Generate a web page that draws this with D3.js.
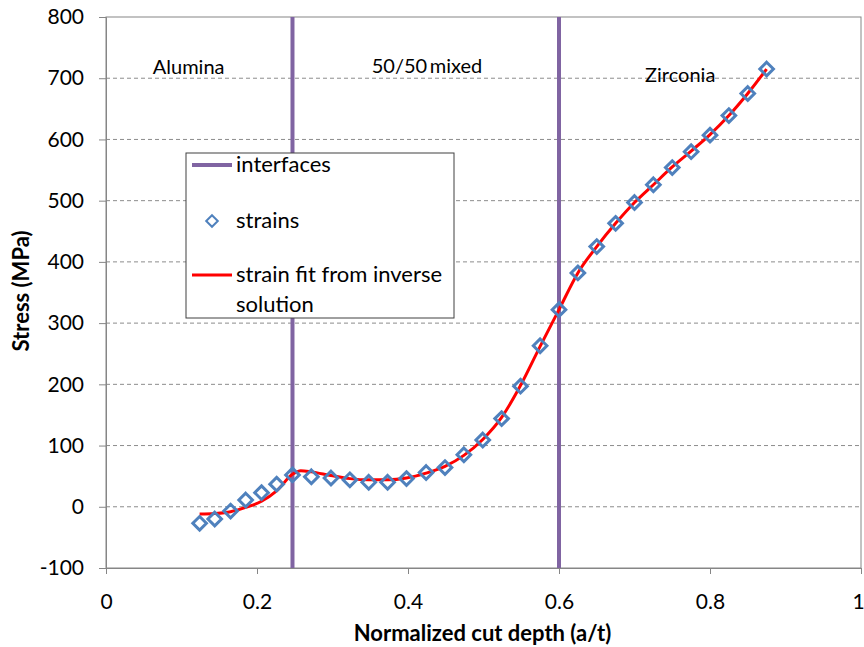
<!DOCTYPE html>
<html>
<head>
<meta charset="utf-8">
<script src="https://cdn.jsdelivr.net/npm/d3@7"></script>
<style>
  body { margin: 0; background: #fff; }
  text { font-family: Lato, "Open Sans", sans-serif; fill: #000; }
</style>
</head>
<body>
<div id="wrapper"></div>
<script>
// measured strains (normalized depth, stress in MPa)
const strainDepths = [0.124, 0.144, 0.165, 0.185, 0.206, 0.226, 0.247,
  0.272, 0.298, 0.323, 0.348, 0.373, 0.398, 0.424, 0.449, 0.474, 0.499,
  0.524, 0.549, 0.575, 0.6,
  0.625, 0.65, 0.675, 0.7, 0.725, 0.75, 0.775, 0.8, 0.825, 0.85, 0.875]
const strainStress = [-27, -20, -7, 11, 23, 37, 52,
  49, 47, 44, 40, 40, 46, 56, 64, 85, 109,
  144, 197, 263, 322,
  382, 425, 463, 497, 526, 554, 580, 607, 639, 675, 715]

// strain fit from inverse solution
const fitDepths = [0.124, 0.144, 0.165, 0.185, 0.206, 0.226, 0.247,
  0.258, 0.272, 0.298, 0.323, 0.348, 0.373, 0.398, 0.424, 0.449, 0.474, 0.499,
  0.524, 0.549, 0.575, 0.6,
  0.625, 0.65, 0.675, 0.7, 0.725, 0.75, 0.775, 0.8, 0.825, 0.85, 0.875]
const fitStress = [-12, -11, -8, -1, 9, 26, 53,
  59, 57, 51, 46, 44, 44, 47, 55, 66, 84, 110,
  146, 198, 262, 322,
  382, 425, 463, 497, 526, 555, 581, 608, 639, 675, 715]

const interfaceDepths = [0.247, 0.6]

const regionLabels = ["Alumina", "50/50\u2009mixed", "Zirconia"]
const regionDepths = [0.062, 0.352, 0.714]
const regionStress = [707, 708, 694]

const xTicks = [0, 0.2, 0.4, 0.6, 0.8, 1]
const xTickLabels = ["0", "0.2", "0.4", "0.6", "0.8", "1"]
const yTicks = [-100, 0, 100, 200, 300, 400, 500, 600, 700, 800]

const legendLabels = [["interfaces"], ["strains"], ["strain fit from inverse", "solution"]]

function drawChart() {
  let dimensions = {
    width: 864,
    height: 647,
    margin: { top: 17, right: 3, bottom: 79, left: 106 }
  }
  dimensions.boundedWidth = dimensions.width - dimensions.margin.left - dimensions.margin.right
  dimensions.boundedHeight = dimensions.height - dimensions.margin.top - dimensions.margin.bottom

  const wrapper = d3.select("#wrapper")
    .append("svg")
      .attr("width", dimensions.width)
      .attr("height", dimensions.height)

  const bounds = wrapper.append("g")
    .attr("transform", `translate(${dimensions.margin.left}, ${dimensions.margin.top})`)

  const xScale = d3.scaleLinear()
    .domain([0, 1])
    .range([0, dimensions.boundedWidth])

  const yScale = d3.scaleLinear()
    .domain([-100, 800])
    .range([dimensions.boundedHeight, 0])

  // gridlines
  bounds.append("g")
    .selectAll("line")
    .data(yTicks.filter(d => d > -100 && d < 800))
    .enter().append("line")
      .attr("x1", 0)
      .attr("x2", dimensions.boundedWidth)
      .attr("y1", d => yScale(d))
      .attr("y2", d => yScale(d))
      .attr("stroke", "#8c8c8c")
      .attr("stroke-width", 1)
      .attr("stroke-dasharray", "4,3")

  // plot border
  bounds.append("rect")
    .attr("width", dimensions.boundedWidth)
    .attr("height", dimensions.boundedHeight)
    .attr("fill", "none")
    .attr("stroke", "#868686")
    .attr("stroke-width", 1)

  // axes
  const yAxisGenerator = d3.axisLeft(yScale)
    .tickValues(yTicks)
    .tickSize(7)
    .tickPadding(15)
    .tickFormat(d => String(d))

  const yAxis = bounds.append("g").call(yAxisGenerator)
  yAxis.select(".domain").attr("stroke", "#868686")
  yAxis.selectAll(".tick line").attr("stroke", "#868686")
  yAxis.selectAll(".tick text")
    .style("font-size", "21px")
    .style("font-family", "Lato, sans-serif")

  const xAxisGenerator = d3.axisBottom(xScale)
    .tickValues(xTicks)
    .tickSize(6)
    .tickPadding(20)
    .tickFormat((d, i) => xTickLabels[i])

  const xAxis = bounds.append("g")
    .attr("transform", `translate(0, ${dimensions.boundedHeight})`)
    .call(xAxisGenerator)
  xAxis.select(".domain").attr("stroke", "#868686")
  xAxis.selectAll(".tick line").attr("stroke", "#868686")
  xAxis.selectAll(".tick text")
    .style("font-size", "21px")
    .style("font-family", "Lato, sans-serif")
    .attr("dx", d => d === 1 ? "-3" : "0")

  // interfaces
  bounds.append("g")
    .selectAll("line")
    .data(interfaceDepths)
    .enter().append("line")
      .attr("x1", d => xScale(d))
      .attr("x2", d => xScale(d))
      .attr("y1", 0)
      .attr("y2", dimensions.boundedHeight)
      .attr("stroke", "#8064A2")
      .attr("stroke-width", 4)

  // fit line
  const fitData = fitDepths.map((d, i) => [d, fitStress[i]])
  const lineGenerator = d3.line()
    .x(d => xScale(d[0]))
    .y(d => yScale(d[1]))
    .curve(d3.curveMonotoneX)

  bounds.append("path")
    .datum(fitData)
    .attr("d", lineGenerator)
    .attr("fill", "none")
    .attr("stroke", "#FF0000")
    .attr("stroke-width", 3)

  // strain markers
  const diamond = r => `M0,${-r}L${r},0L0,${r}L${-r},0Z`
  bounds.append("g")
    .selectAll("path")
    .data(strainDepths.map((d, i) => [d, strainStress[i]]))
    .enter().append("path")
      .attr("transform", d => `translate(${xScale(d[0])}, ${yScale(d[1])})`)
      .attr("d", diamond(6.8))
      .attr("fill", "none")
      .attr("stroke", "#4F81BD")
      .attr("stroke-width", 3)

  // region labels
  bounds.append("g")
    .selectAll("text")
    .data(regionLabels)
    .enter().append("text")
      .attr("x", (d, i) => xScale(regionDepths[i]))
      .attr("y", (d, i) => yScale(regionStress[i]))
      .style("font-size", "20px")
      .text(d => d)

  // axis titles
  wrapper.append("text")
    .attr("x", dimensions.margin.left + xScale(0.5) - 1)
    .attr("y", 641)
    .attr("text-anchor", "middle")
    .style("font-size", "22px")
    .style("font-weight", "bold")
    .text("Normalized cut depth (a/t)")

  wrapper.append("text")
    .attr("transform", "translate(29, 291) rotate(-90)")
    .attr("text-anchor", "middle")
    .style("font-size", "22px")
    .style("font-weight", "bold")
    .text("Stress (MPa)")

  // legend
  const legend = wrapper.append("g")
    .attr("transform", "translate(186, 153)")

  legend.append("rect")
    .attr("width", 268)
    .attr("height", 165)
    .attr("fill", "#fff")
    .attr("stroke", "#404040")
    .attr("stroke-width", 1)

  const rowY = [12, 68, 122]

  legend.append("line")
    .attr("x1", 6).attr("x2", 46)
    .attr("y1", rowY[0]).attr("y2", rowY[0])
    .attr("stroke", "#8064A2")
    .attr("stroke-width", 4)

  legend.append("path")
    .attr("transform", `translate(26, ${rowY[1]})`)
    .attr("d", diamond(5.8))
    .attr("fill", "none")
    .attr("stroke", "#4F81BD")
    .attr("stroke-width", 2)

  legend.append("line")
    .attr("x1", 6).attr("x2", 46)
    .attr("y1", rowY[2]).attr("y2", rowY[2])
    .attr("stroke", "#FF0000")
    .attr("stroke-width", 3)

  legendLabels.forEach((lines, i) => {
    const t = legend.append("text")
      .attr("x", 50)
      .attr("y", rowY[i] + 7)
      .style("font-size", "22px")
    lines.forEach((line, j) => {
      t.append("tspan")
        .attr("x", 50)
        .attr("dy", j === 0 ? 0 : 29.5)
        .text(line)
    })
  })
}

drawChart()
</script>
</body>
</html>
